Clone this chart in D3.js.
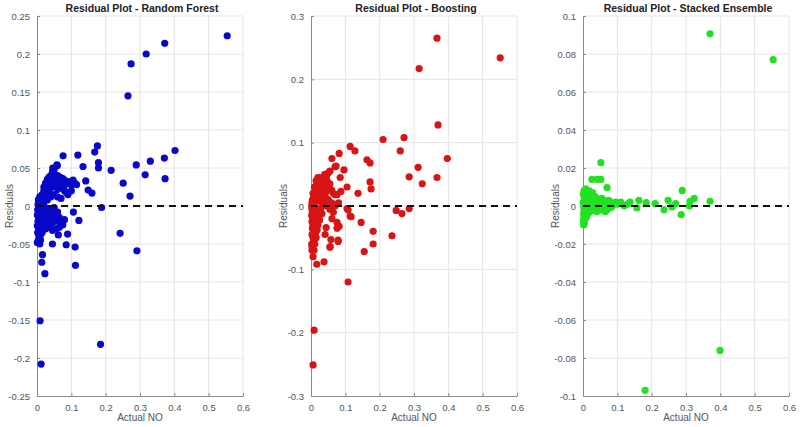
<!DOCTYPE html>
<html>
<head>
<meta charset="utf-8">
<script src="https://cdn.jsdelivr.net/npm/d3@7"></script>
<style>
  body { margin: 0; background: #fff; }
  svg { font-family: "Liberation Sans", Arial, sans-serif; }
  .grid line { stroke: #e4e4e4; stroke-width: 1; }
  .axis path, .axis line { stroke: #8a8a8a; }
  .axis text { fill: #555; font-size: 9.5px; }
</style>
</head>
<body>
<svg width="800" height="427"></svg>
<script>
// panel titles
var titles = ["Residual Plot - Random Forest", "Residual Plot - Boosting", "Residual Plot - Stacked Ensemble"];

// x ticks shared by all panels
var xTicks = [0, 0.1, 0.2, 0.3, 0.4, 0.5, 0.6];
var rfTicks = [-0.25, -0.2, -0.15, -0.1, -0.05, 0, 0.05, 0.1, 0.15, 0.2, 0.25];
var boostTicks = [-0.3, -0.2, -0.1, 0, 0.1, 0.2, 0.3];
var stackTicks = [-0.1, -0.08, -0.06, -0.04, -0.02, 0, 0.02, 0.04, 0.06, 0.08, 0.1];

// [actual NO, residual]
var rfPoints = [
  [0.554,0.224],[0.372,0.214],[0.318,0.200],[0.274,0.187],[0.265,0.145],
  [0.176,0.079],[0.168,0.071],[0.076,0.066],[0.119,0.067],[0.059,0.053],[0.134,0.052],
  [0.179,0.057],[0.179,0.050],[0.216,0.047],[0.289,0.054],[0.330,0.059],[0.371,0.063],
  [0.402,0.073],[0.315,0.041],[0.373,0.036],[0.251,0.030],[0.271,0.013],[0.142,0.033],
  [0.149,0.021],[0.160,0.017],[0.188,-0.002],[0.242,-0.036],[0.291,-0.059],[0.106,-0.008],
  [0.122,-0.019],[0.111,-0.054],[0.112,-0.078],[0.085,-0.051],[0.045,-0.050],[0.023,-0.089],
  [0.016,-0.064],[0.014,-0.074],[0.089,-0.037],[0.062,-0.038],[0.009,-0.151],[0.185,-0.182],
  [0.012,-0.208],[0.046,0.050],[0.058,0.054],
  [0.005,0.005],[0.010,0.010],[0.015,0.015],[0.020,0.020],[0.025,0.024],[0.030,0.028],
  [0.035,0.032],[0.040,0.035],[0.045,0.038],[0.050,0.040],[0.055,0.040],[0.060,0.040],
  [0.065,0.038],[0.070,0.037],[0.075,0.036],[0.080,0.034],[0.085,0.030],[0.090,0.032],
  [0.095,0.030],[0.100,0.028],[0.105,0.034],[0.110,0.030],[0.115,0.028],[0.100,0.020],
  [0.005,0.000],[0.010,0.002],[0.015,0.006],[0.020,0.010],[0.025,0.013],[0.030,0.018],
  [0.035,0.020],[0.040,0.024],[0.045,0.027],[0.050,0.030],[0.055,0.025],[0.060,0.022],
  [0.070,0.025],[0.080,0.020],[0.085,0.018],[0.090,0.015],[0.020,0.005],[0.030,0.008],
  [0.040,0.012],[0.050,0.015],[0.060,0.012],[0.070,0.010],[0.045,0.045],[0.050,0.048],
  [0.002,-0.005],[0.004,-0.010],[0.006,-0.015],[0.003,-0.020],[0.008,-0.025],[0.005,-0.030],
  [0.002,-0.035],[0.007,-0.040],[0.004,-0.045],[0.010,-0.020],[0.012,-0.010],[0.015,-0.005],
  [0.018,-0.015],[0.020,-0.025],[0.025,-0.020],[0.030,-0.015],[0.035,-0.010],[0.040,-0.018],
  [0.045,-0.022],[0.050,-0.012],[0.055,-0.020],[0.060,-0.008],[0.065,-0.015],[0.070,-0.020],
  [0.075,-0.025],[0.080,-0.018],[0.015,-0.035],[0.025,-0.030],[0.035,-0.028],[0.045,-0.032],
  [0.055,-0.030],[0.065,-0.028],[0.020,0.000],[0.030,-0.003],[0.040,-0.005],[0.050,-0.002],
  [0.001,-0.048],[0.008,-0.050],[0.010,-0.045],[0.012,0.005],[0.008,0.012],[0.004,0.008],
  [0.030,0.035],[0.035,0.038],[0.040,0.040],[0.025,0.018],[0.030,0.022],[0.035,0.026],
  [0.040,0.030],[0.045,0.033],[0.055,0.034],[0.060,0.034],[0.065,0.030],[0.070,0.031],
  [0.075,0.028],[0.080,0.027],[0.065,0.024],[0.010,0.006],[0.015,0.011],[0.020,0.015],
  [0.008,-0.005],[0.012,-0.015],[0.006,-0.022],[0.010,-0.030],[0.005,-0.038],[0.015,-0.025],
  [0.020,-0.010],[0.025,-0.008],[0.030,-0.022],[0.035,-0.018],[0.040,-0.025],[0.003,0.002],
  [0.001,-0.012],[0.001,-0.026],[0.009,-0.040],[0.025,0.030],[0.020,0.025]
];

var boostPoints = [
  [0.367,0.265],[0.551,0.234],[0.315,0.217],[0.370,0.128],[0.210,0.105],[0.271,0.108],
  [0.260,0.087],[0.114,0.094],[0.128,0.087],[0.082,0.083],[0.061,0.075],[0.163,0.073],
  [0.172,0.068],[0.397,0.075],[0.312,0.061],[0.367,0.045],[0.324,0.035],[0.286,0.046],
  [0.070,0.062],[0.096,0.057],[0.085,0.045],[0.172,0.038],[0.175,0.027],[0.137,0.020],
  [0.105,0.030],[0.248,-0.007],[0.265,-0.012],[0.286,-0.004],[0.117,-0.017],[0.105,-0.004],
  [0.146,-0.026],[0.181,-0.040],[0.236,-0.047],[0.181,-0.060],[0.155,-0.072],[0.082,-0.032],
  [0.079,-0.056],[0.056,-0.064],[0.041,-0.045],[0.061,-0.020],[0.076,-0.026],[0.044,-0.034],
  [0.038,-0.088],[0.017,-0.092],[0.006,-0.080],[0.003,-0.064],[0.108,-0.120],[0.009,-0.196],
  [0.006,-0.251],[0.073,0.063],[0.087,0.023],[0.076,0.018],[0.058,-0.053],[0.055,-0.065],
  [0.079,-0.054],[0.076,-0.035],[0.108,-0.006],[0.114,-0.016],
  [0.003,0.005],[0.005,0.010],[0.008,0.015],[0.010,0.020],[0.012,0.012],[0.015,0.025],
  [0.018,0.018],[0.020,0.030],[0.022,0.022],[0.025,0.035],[0.028,0.028],[0.030,0.040],
  [0.032,0.032],[0.035,0.045],[0.038,0.036],[0.040,0.050],[0.042,0.040],[0.045,0.045],
  [0.050,0.052],[0.055,0.055],[0.030,0.020],[0.035,0.025],[0.040,0.030],[0.045,0.028],
  [0.050,0.030],[0.055,0.035],[0.060,0.025],[0.065,0.020],[0.070,0.018],[0.020,0.010],
  [0.025,0.012],[0.030,0.005],[0.040,0.008],[0.050,0.010],[0.060,0.005],[0.070,0.000],
  [0.080,0.005],[0.045,0.000],[0.055,-0.005],[0.065,-0.010],
  [0.002,0.000],[0.003,-0.005],[0.004,-0.010],[0.002,-0.015],[0.005,-0.020],[0.003,-0.025],
  [0.006,-0.030],[0.004,-0.035],[0.007,-0.040],[0.003,-0.045],[0.006,-0.050],[0.008,-0.055],
  [0.002,-0.060],[0.010,-0.005],[0.012,-0.012],[0.014,-0.020],[0.016,-0.028],[0.010,-0.035],
  [0.013,-0.042],[0.018,-0.008],[0.022,-0.015],[0.025,-0.022],[0.020,-0.030],[0.028,-0.005],
  [0.032,-0.012],[0.015,-0.050],[0.011,-0.060],[0.009,-0.070],[0.004,0.008],[0.006,0.020],
  [0.010,0.030],[0.020,0.045],[0.015,0.040],
  [0.008,0.005],[0.015,0.008],[0.018,0.035],[0.025,0.045],[0.035,0.015],[0.012,-0.025],
  [0.008,-0.045],[0.003,-0.070],[0.018,-0.038],[0.030,0.012],[0.042,0.020],[0.048,0.038]
];

var stackPoints = [
  [0.370,0.0906],[0.554,0.077],[0.399,-0.076],[0.181,-0.097],
  [0.052,0.0228],[0.026,0.014],[0.041,0.014],[0.052,0.014],[0.070,0.0097],[0.289,0.0082],
  [0.248,0.003],[0.324,0.004],[0.312,0.0025],[0.370,0.0025],[0.270,0.0013],[0.210,0.0013],
  [0.236,-0.002],[0.259,-0.0005],[0.286,-0.0045],[0.310,0.000],[0.184,0.0018],[0.163,0.003],
  [0.157,-0.001],[0.137,0.002],
  [0.003,0.008],[0.005,0.006],[0.008,0.009],[0.010,0.005],[0.012,0.007],[0.015,0.004],
  [0.018,0.008],[0.020,0.006],[0.022,0.003],[0.025,0.005],[0.028,0.007],[0.030,0.004],
  [0.032,0.002],[0.035,0.005],[0.038,0.003],[0.040,0.004],[0.045,0.002],[0.050,0.003],
  [0.055,0.001],[0.060,0.003],[0.065,0.002],[0.070,0.001],[0.075,0.003],[0.080,0.002],
  [0.085,0.000],[0.090,0.001],[0.095,0.002],[0.100,0.001],[0.110,0.002],[0.120,0.000],
  [0.130,0.001],[0.060,-0.001],[0.070,-0.002],[0.080,-0.001],[0.050,-0.002],[0.040,-0.003],
  [0.030,-0.002],[0.020,-0.003],[0.015,-0.004],[0.010,-0.002],[0.005,-0.003],[0.003,-0.005],
  [0.002,-0.007],[0.004,-0.009],[0.002,-0.010],[0.006,-0.006],[0.008,-0.004],[0.001,0.002],
  [0.002,0.000],[0.004,0.004],[0.003,-0.002],[0.045,-0.001],[0.055,0.004],[0.065,-0.003],
  [0.001,0.006],[0.002,-0.004],[0.001,-0.008],[0.006,0.002],[0.012,0.000],[0.016,0.001],
  [0.024,0.000],[0.034,0.000],[0.010,-0.006],[0.018,0.002]
];

var panels = [
  {title: titles[0], points: rfPoints, yTicks: rfTicks, color: "#0808c8", left: 37},
  {title: titles[1], points: boostPoints, yTicks: boostTicks, color: "#d81414", left: 311},
  {title: titles[2], points: stackPoints, yTicks: stackTicks, color: "#22e022", left: 583}
];

var svg = d3.select("svg"),
    pw = 206, plotTop = 16, ph = 380;

var fmt = function(d) { return String(+d.toFixed(3)); };

panels.forEach(function(p) {
  var x = d3.scaleLinear().domain([0, 0.6]).range([0, pw]),
      y = d3.scaleLinear().domain(d3.extent(p.yTicks)).range([ph, 0]);

  var g = svg.append("g")
      .attr("transform", "translate(" + p.left + "," + plotTop + ")");

  // grid
  var grid = g.append("g").attr("class", "grid");
  grid.selectAll("line.v").data(xTicks.slice(1)).enter().append("line")
      .attr("class", "v")
      .attr("x1", x).attr("x2", x).attr("y1", 0).attr("y2", ph);
  grid.selectAll("line.h").data(p.yTicks.slice(1)).enter().append("line")
      .attr("class", "h")
      .attr("y1", y).attr("y2", y).attr("x1", 0).attr("x2", pw);

  g.append("g")
      .attr("class", "axis")
      .attr("transform", "translate(0," + ph + ")")
      .call(d3.axisBottom(x).tickValues(xTicks).tickFormat(fmt).tickSizeInner(-3).tickSizeOuter(0).tickPadding(8));

  g.append("g")
      .attr("class", "axis")
      .call(d3.axisLeft(y).tickValues(p.yTicks).tickFormat(fmt).tickSizeInner(-3).tickSizeOuter(0).tickPadding(7));

  g.append("text")
      .attr("x", pw / 2 + 2)
      .attr("y", -4)
      .attr("text-anchor", "middle")
      .attr("font-size", "10.5px")
      .attr("font-weight", "bold")
      .attr("fill", "#222")
      .text(p.title);

  g.append("text")
      .attr("x", pw / 2)
      .attr("y", ph + 25)
      .attr("text-anchor", "middle")
      .attr("font-size", "10px")
      .attr("fill", "#555")
      .text("Actual NO");

  g.append("text")
      .attr("transform", "rotate(-90)")
      .attr("x", -y(0))
      .attr("y", -24)
      .attr("text-anchor", "middle")
      .attr("font-size", "10px")
      .attr("fill", "#555")
      .text("Residuals");

  g.selectAll(".dot")
    .data(p.points)
    .enter().append("circle")
      .attr("class", "dot")
      .attr("cx", function(d) { return x(d[0]); })
      .attr("cy", function(d) { return y(d[1]); })
      .attr("r", 3.6)
      .attr("fill", p.color);

  g.append("line")
      .attr("x1", x(0)).attr("x2", x(0.6))
      .attr("y1", y(0)).attr("y2", y(0))
      .attr("stroke", "#111")
      .attr("stroke-width", 1.8)
      .attr("stroke-dasharray", "7,5");
});
</script>
</body>
</html>
